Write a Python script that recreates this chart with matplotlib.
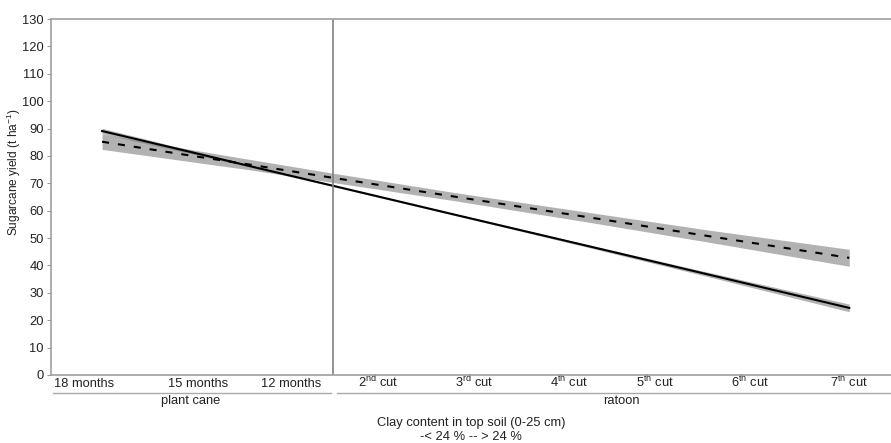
import matplotlib
matplotlib.use("Agg")
from matplotlib import pyplot as plt
from matplotlib import transforms
import numpy as np

plt.rcParams['font.family'] = ['Liberation Sans', 'DejaVu Sans']
plt.rcParams['mathtext.fontset'] = 'custom'
plt.rcParams['mathtext.rm'] = 'Liberation Sans'
plt.rcParams['mathtext.it'] = 'Liberation Sans:italic'

# category positions on the time axis
tick_pos = [0.37, 1.64, 2.67, 3.64, 4.71, 5.76, 6.72, 7.78, 8.88]
tick_labels = ['18 months', '15 months', '12 months',
               '2$^{\\mathrm{nd}}$ cut', '3$^{\\mathrm{rd}}$ cut', '4$^{\\mathrm{th}}$ cut',
               '5$^{\\mathrm{th}}$ cut', '6$^{\\mathrm{th}}$ cut', '7$^{\\mathrm{th}}$ cut']
split_pos = 3.14

# fitted yield (t/ha)
x_fit = [0.57, 1.6, 2.2, 3.14, 4.5, 6.0, 7.3, 8.88]
low_clay = [89.1, 81.1, 76.4, 69.1, 58.5, 46.9, 36.8, 24.5]      # < 24 % (solid)
low_clay_ci = [1.0, 0.6, 0.4, 0.3, 0.3, 0.5, 0.8, 1.4]
high_clay = [85.2, 79.9, 76.9, 72.0, 65.1, 57.5, 50.8, 42.8]     # > 24 % (dashed)
high_clay_ci = [2.8, 2.2, 1.9, 1.7, 1.5, 1.8, 2.2, 3.1]

fig = plt.figure(figsize=(8.91, 4.43), dpi=100)
ax = fig.add_axes([0.057, 0.1535, 0.943, 0.8035])

x = np.array(x_fit)
for y, ci, ls in [(low_clay, low_clay_ci, '-'), (high_clay, high_clay_ci, '--')]:
    y = np.array(y)
    ci = np.array(ci)
    ax.fill_between(x, y - ci, y + ci, color='#808080', alpha=0.6, linewidth=0)
    line, = ax.plot(x, y, color='black', linestyle=ls, linewidth=1.5)
    if ls == '--':
        line.set_dashes((3.4, 4.3))

ax.axvline(split_pos, color='#808080', linewidth=1.2)

ax.set_xlim(0, 9.344)
ax.set_ylim(0, 130)
ax.set_yticks(np.arange(0, 131, 10))
ax.set_xticks(tick_pos)
ax.set_xticklabels(tick_labels, va='baseline')
ax.tick_params(axis='x', length=0, pad=8.8, labelsize=9.3, colors='#222222')
ax.tick_params(axis='y', length=3, width=0.8, color='#999999', labelsize=9.3, labelcolor='#222222', pad=2)

for side in ['left', 'top', 'bottom']:
    ax.spines[side].set_color('#a0a0a0')
    ax.spines[side].set_linewidth(1.2)
ax.spines['right'].set_visible(False)

ax.text(-0.044, 0.57, 'Sugarcane yield (t ha$^{-1}$)', transform=ax.transAxes, rotation=90,
        ha='center', va='center', fontsize=8.6, color='#222222')

# group brackets below the tick labels
trans = transforms.blended_transform_factory(ax.transData, ax.transAxes)
ax.plot([0.02, 3.12], [-0.0506, -0.0506], transform=trans, color='#aaaaaa', linewidth=1, clip_on=False)
ax.plot([3.18, 9.344], [-0.0506, -0.0506], transform=trans, color='#aaaaaa', linewidth=1, clip_on=False)
ax.text(1.55, -0.072, 'plant cane', transform=trans, ha='center', va='center', fontsize=9.3, color='#222222')
ax.text(6.34, -0.072, 'ratoon', transform=trans, ha='center', va='center', fontsize=9.3, color='#222222')

ax.text(0.5, -0.135, 'Clay content in top soil (0-25 cm)', transform=ax.transAxes,
        ha='center', va='center', fontsize=9.3, color='#222222')
ax.text(0.5, -0.174, '-< 24 % -- > 24 %', transform=ax.transAxes,
        ha='center', va='center', fontsize=9.3, color='#222222')

fig.savefig('out.png', dpi=100)
